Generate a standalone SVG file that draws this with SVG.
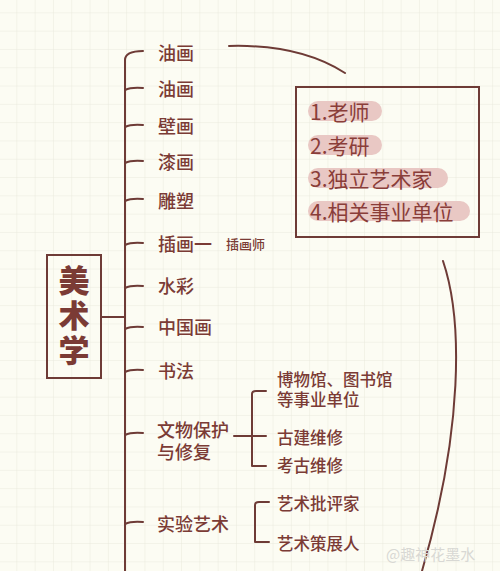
<svg xmlns="http://www.w3.org/2000/svg" width="500" height="571" viewBox="0 0 500 571">
<defs>
<pattern id="grid" x="-1" y="-5" width="18.3" height="18.3" patternUnits="userSpaceOnUse">
<path d="M18.3,0 V18.3 M0,18.3 H18.3" fill="none" stroke="#e9e9dd" stroke-width="1"/>
</pattern>
<style>
.t{font-family:"Noto Sans CJK SC","Noto Sans",sans-serif;fill:#7b3b35;dominant-baseline:central;}
.ml{font-family:"Liberation Sans","Noto Sans CJK SC",sans-serif;}
.it{font-size:18px;font-weight:500;}
.sm{font-size:16.5px;font-weight:500;}
.xs{font-size:13px;font-weight:500;}
.big{font-family:"Noto Sans CJK SC",sans-serif;fill:#7b3b35;font-size:31px;font-weight:900;writing-mode:vertical-rl;letter-spacing:4px;}
.ln{fill:none;stroke:#6e3b36;stroke-width:2;stroke-linecap:round;}
.pill{fill:#e9c8c4;}
.pt{font-family:"Noto Sans CJK SC","Noto Sans",sans-serif;font-size:21px;fill:#8a3d39;dominant-baseline:central;}
</style>
</defs>
<rect width="500" height="571" fill="#fcfcf3"/>
<rect width="500" height="571" fill="url(#grid)"/>

<g id="connectors">
<path class="ln" d="M125,571 V60 Q125,51 143,51"/>
<path class="ln" d="M125,90 Q131,87 143,88"/>
<path class="ln" d="M125,127 Q131,124 143,125"/>
<path class="ln" d="M125,163 Q131,160 143,161"/>
<path class="ln" d="M125,201 Q131,198 143,199"/>
<path class="ln" d="M125,245 Q131,242 143,243"/>
<path class="ln" d="M125,288 Q131,285 143,286"/>
<path class="ln" d="M125,329 Q131,326 143,327"/>
<path class="ln" d="M125,372 Q131,369 143,370"/>
<path class="ln" d="M125,435 Q131,432 143,433"/>
<path class="ln" d="M125,524 Q131,521 143,522"/>
<path class="ln" d="M102,317 H125"/>
<path class="ln" d="M234,436 H266 M252,466 V394 Q252,391 256,391 H266 M252,466 H266"/>
<path class="ln" d="M255,542 V505 Q255,502 259,502 H269 M255,542 H269"/>
<path class="ln" d="M229,46 Q300,44 345,73" stroke-width="1.8"/>
<path class="ln" d="M443,261 C463,320 463,430 422,571" stroke-width="1.8"/>
</g>

<g id="root">
<rect x="47" y="255" width="54" height="123" fill="none" stroke="#6e3b36" stroke-width="2"/>
<text class="big" x="74" y="265">美术学</text>
</g>

<g id="n1"><text class="t it" x="158" y="52">油画</text></g>
<g id="n2"><text class="t it" x="158" y="88">油画</text></g>
<g id="n3"><text class="t it" x="158" y="125">壁画</text></g>
<g id="n4"><text class="t it" x="158" y="161">漆画</text></g>
<g id="n5"><text class="t it" x="158" y="200">雕塑</text></g>
<g id="n6"><text class="t it" x="158" y="243">插画一</text><text class="t xs" x="226" y="243">插画师</text></g>
<g id="n7"><text class="t it" x="158" y="285">水彩</text></g>
<g id="n8"><text class="t it" x="158" y="326">中国画</text></g>
<g id="n9"><text class="t it" x="158" y="370">书法</text></g>
<g id="n10"><text class="t it ml" x="157" y="431">文物保护<tspan x="157" y="453">与修复</tspan></text></g>
<g id="n10a"><text class="t sm ml" x="277" y="380">博物馆、图书馆<tspan x="277" y="400">等事业单位</tspan></text></g>
<g id="n10b"><text class="t sm" x="277" y="437">古建维修</text></g>
<g id="n10c"><text class="t sm" x="277" y="465">考古维修</text></g>
<g id="n11"><text class="t it" x="157" y="523">实验艺术</text></g>
<g id="n11a"><text class="t sm" x="277" y="503">艺术批评家</text></g>
<g id="n11b"><text class="t sm" x="277" y="543">艺术策展人</text></g>

<g id="careers">
<rect x="296" y="87" width="183" height="150" fill="none" stroke="#6e3b36" stroke-width="2"/>
<rect class="pill" x="308" y="101" width="74" height="20" rx="10"/>
<text class="pt" x="310" y="111">1.老师</text>
<rect class="pill" x="308" y="135" width="74" height="20" rx="10"/>
<text class="pt" x="310" y="145">2.考研</text>
<rect class="pill" x="308" y="168" width="140" height="20" rx="10"/>
<text class="pt" x="310" y="178">3.独立艺术家</text>
<rect class="pill" x="308" y="201" width="162" height="20" rx="10"/>
<text class="pt" x="310" y="211">4.相关事业单位</text>
</g>

<g id="watermark"><text x="386" y="553" font-family="Noto Sans CJK SC,sans-serif" font-size="15" fill="#d8d8d4" dominant-baseline="central">@趣神花墨水</text></g>
</svg>
